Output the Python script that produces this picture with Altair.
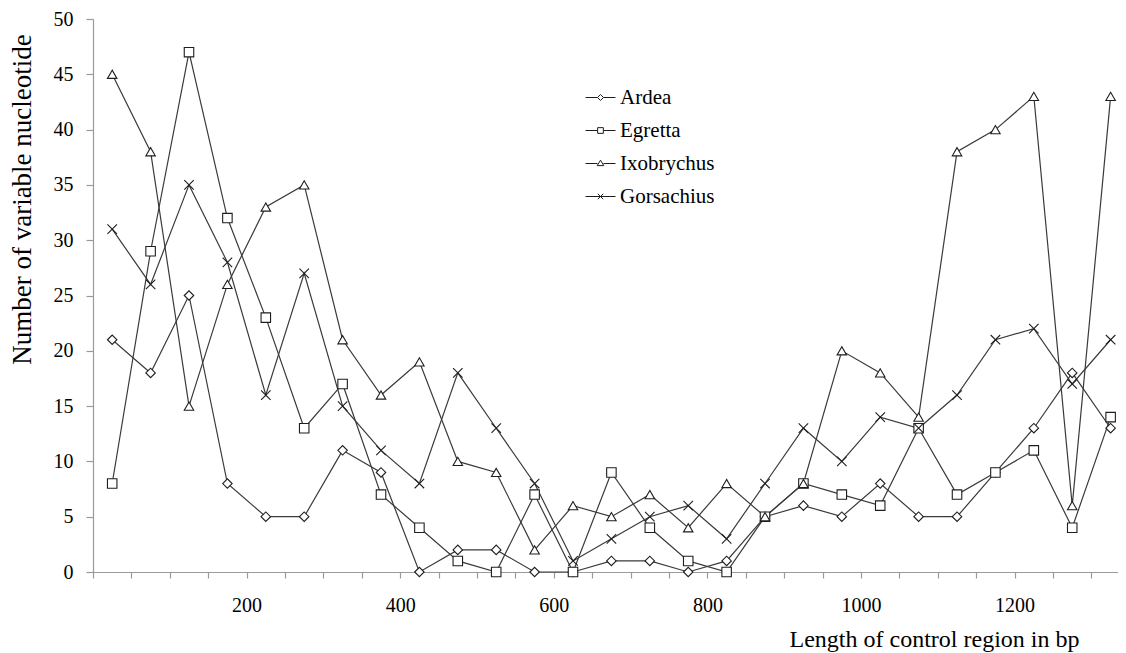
import altair as alt
import pandas as pd

# Window midpoints (bp)
positions = [25, 75, 125, 175, 225, 275, 325, 375, 425, 475, 525, 575, 625, 675,
             725, 775, 825, 875, 925, 975, 1025, 1075, 1125, 1175, 1225, 1275, 1325]

species = ["Ardea", "Egretta", "Ixobrychus", "Gorsachius"]

ardea = [21, 18, 25, 8, 5, 5, 11, 9, 0, 2, 2, 0, 0, 1, 1, 0, 1, 5, 6, 5, 8, 5, 5, 9, 13, 18, 13]
egretta = [8, 29, 47, 32, 23, 13, 17, 7, 4, 1, 0, 7, 0, 9, 4, 1, 0, 5, 8, 7, 6, 13, 7, 9, 11, 4, 14]
ixobrychus = [45, 38, 15, 26, 33, 35, 21, 16, 19, 10, 9, 2, 6, 5, 7, 4, 8, 5, 8, 20, 18, 14, 38, 40, 43, 6, 43]
gorsachius = [31, 26, 35, 28, 16, 27, 15, 11, 8, 18, 13, 8, 1, 3, 5, 6, 3, 8, 13, 10, 14, 13, 16, 21, 22, 17, 21]

y_ticks = [0, 5, 10, 15, 20, 25, 30, 35, 40, 45, 50]
x_ticks = [0, 50, 100, 150, 200, 250, 300, 350, 400, 450, 500, 550, 600, 650,
           700, 750, 800, 850, 900, 950, 1000, 1050, 1100, 1150, 1200, 1250, 1300]
x_label_values = [200, 400, 600, 800, 1000, 1200]

rows = []
for name, vals in zip(species, [ardea, egretta, ixobrychus, gorsachius]):
    for p, v in zip(positions, vals):
        rows.append({"species": name, "bp": p, "n": v})
df = pd.DataFrame(rows)

marker_shapes = ["diamond", "square", "triangle-up", "M-1,-1L1,1M-1,1L1,-1"]
legend_shapes = [
    "M-1,0L-0.2,0M0.2,0L1,0M-0.2,0L0,-0.2L0.2,0L0,0.2Z",
    "M-1,0L-0.19,0M0.19,0L1,0M-0.19,-0.19L0.19,-0.19L0.19,0.19L-0.19,0.19Z",
    "M-1,0L-0.2,0M0.2,0L1,0M0,-0.22L0.22,0.14L-0.22,0.14Z",
    "M-1,0L1,0M-0.18,-0.18L0.18,0.18M-0.18,0.18L0.18,-0.18",
]

serif = "Liberation Serif"
grey = "#9a9a9a"

label_expr = "indexof([" + ",".join(str(v) for v in x_label_values) + "], datum.value) >= 0 ? datum.label : ''"

x_enc = alt.X(
    "bp:Q",
    scale=alt.Scale(domain=[0, 1334.6], nice=False, zero=False),
    axis=alt.Axis(
        values=x_ticks, labelExpr=label_expr, format="d", grid=False,
        tickSize=6, tickColor=grey, domainColor=grey, tickWidth=1.2, domainWidth=1.2,
        labelFont=serif, labelFontSize=20, labelColor="black", labelPadding=17,
        labelFlush=False, labelOverlap=False,
        title="Length  of control region in bp", titleFont=serif, titleFontSize=24,
        titleFontWeight="normal", titleColor="black", titleX=841, titleY=67,
        titleAlign="center", titleBaseline="middle",
    ),
)
y_enc = alt.Y(
    "n:Q",
    scale=alt.Scale(domain=[0, 50], nice=False),
    axis=alt.Axis(
        values=y_ticks, grid=False, tickSize=7, tickColor=grey, domainColor=grey,
        tickWidth=1.2, domainWidth=1.2,
        labelFont=serif, labelFontSize=20, labelColor="black", labelPadding=13,
        title="Number of variable nucleotide", titleFont=serif, titleFontSize=27,
        titleFontWeight="normal", titleColor="black", titleX=-71, titleY=180,
        titleAlign="center", titleBaseline="middle", titleAngle=270,
    ),
)

base = alt.Chart(df)

lines = base.mark_line(color="#3a3a3a", strokeWidth=1.2).encode(
    x=x_enc, y=y_enc, detail="species:N"
)

points = base.mark_point(fill="white", stroke="#1e1e1e", strokeWidth=1.1, size=90, opacity=1).encode(
    x=x_enc, y=y_enc,
    shape=alt.Shape("species:N", scale=alt.Scale(domain=species, range=marker_shapes), legend=None),
)

legend_layer = base.mark_point(opacity=0, size=900).encode(
    x=x_enc, y=y_enc,
    shape=alt.Shape(
        "species:N",
        scale=alt.Scale(domain=species, range=legend_shapes),
        legend=alt.Legend(
            title=None, orient="none", legendX=492, legendY=63,
            symbolSize=900, symbolFillColor="white", symbolStrokeColor="#1e1e1e",
            symbolStrokeWidth=1, symbolOpacity=1,
            labelFont=serif, labelFontSize=21, labelColor="black",
            labelOffset=4, rowPadding=7, padding=0,
        ),
    ),
)

chart = (
    alt.layer(lines, points, legend_layer)
    .resolve_scale(shape="independent")
    .properties(
        width=1025, height=553,
        padding={"left": 85, "top": 11, "right": 0, "bottom": 81},
        autosize=alt.AutoSizeParams(type="none"),
        background="white",
    )
    .configure_view(stroke=None)
)

chart.save("out.html", embed_options={"renderer": "svg", "actions": False})
